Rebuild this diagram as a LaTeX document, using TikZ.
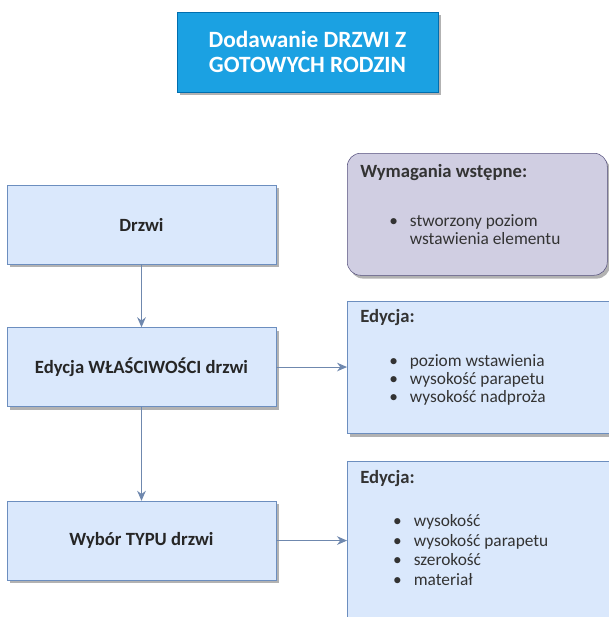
\documentclass[tikz,border=0pt]{standalone}
\usepackage{fontspec}
\setmainfont{Carlito}
\usetikzlibrary{arrows.meta, positioning, shadows}
\definecolor{tytulniebieski}{HTML}{1BA1E2}
\definecolor{tytulramka}{HTML}{006EAF}
\definecolor{blokfill}{HTML}{DAE8FC}
\definecolor{blokramka}{HTML}{6C8EBF}
\definecolor{fioletfill}{HTML}{D0CEE2}
\definecolor{fioletramka}{HTML}{56517E}
\definecolor{strzalka}{HTML}{6F88AE}

\begin{document}
\begin{tikzpicture}[
        x=0.75pt, y=-0.75pt,
        cien/.style={
            drop shadow={shadow xshift=2pt, shadow yshift=-2.5pt, fill=black, opacity=0.3}
        },
        tytul/.style={
            rectangle,
            draw=tytulramka,
            fill=tytulniebieski,
            minimum width=195.75pt,
            minimum height=60pt,
            align=center,
            text=white,
            font=\fontsize{17.5}{19}\selectfont\bfseries,
            cien
        },
        krok/.style={
            rectangle,
            draw=blokramka,
            fill=blokfill,
            minimum width=201.75pt,
            minimum height=59.25pt,
            text=black!85,
            font=\fontsize{14}{16}\selectfont\bfseries,
            cien
        },
        opis/.style={
            rectangle,
            anchor=north west,
            draw=blokramka,
            fill=blokfill,
            minimum width=225pt,
            cien
        },
        wymog/.style={opis, rounded corners=10pt, draw=fioletramka, fill=fioletfill, minimum width=195pt},
        tresc/.style={
            anchor=north west,
            align=left,
            inner sep=0pt,
            text=black!80,
            font=\fontsize{13}{13.5}\selectfont
        },
        strzala/.style={-{Stealth[length=7.5pt, width=6.5pt]}, line width=0.75pt, draw=strzalka}
    ]
        \useasboundingbox (0,0) rectangle (609,617);
        \clip (0,0) rectangle (609,617);

        \node[tytul] (tytul) at (307.5,52) {Dodawanie DRZWI Z\\GOTOWYCH RODZIN};

        % lewa kolumna: kolejne kroki
        \node[krok] (drzwi) at (141.5,224.5) {Drzwi};
        \node[krok, below=47.25pt of drzwi] (wlasciwosci) {Edycja WŁAŚCIWOŚCI drzwi};
        \node[krok, below=70.5pt of wlasciwosci] (typ) {Wybór TYPU drzwi};

        % prawa kolumna: opisy
        \node[wymog, minimum height=91.5pt] (wymagania) at (347,153) {};
        \node[opis, minimum height=99pt] (edycjaA) at (347,301) {};
        \node[opis, minimum height=150pt] (edycjaB) at (347,461) {};

        \node[tresc] at ([shift={(13,11)}]wymagania.north west) {
            {\fontsize{14}{14}\selectfont\bfseries Wymagania wstępne:}\\[24pt]
            \begin{tabular}{@{\hspace{21.75pt}}l@{\hspace{9pt}}l}
                \textbullet & stworzony poziom\\
                            & wstawienia elementu
            \end{tabular}
        };
        \node[tresc] at ([shift={(13,8)}]edycjaA.north west) {
            {\fontsize{14}{14}\selectfont\bfseries Edycja:}\\[20pt]
            \begin{tabular}{@{\hspace{21.75pt}}l@{\hspace{9pt}}l}
                \textbullet & poziom wstawienia\\
                \textbullet & wysokość parapetu\\
                \textbullet & wysokość nadproża
            \end{tabular}
        };
        \node[tresc] at ([shift={(13,9)}]edycjaB.north west) {
            {\fontsize{14}{14}\selectfont\bfseries Edycja:}\\[19pt]
            \renewcommand{\arraystretch}{1.08}
            \begin{tabular}{@{\hspace{21.75pt}}l@{\hspace{9pt}}l}
                \textbullet & wysokość\\
                \textbullet & wysokość parapetu\\
                \textbullet & szerokość\\
                \textbullet & materiał
            \end{tabular}
        };

        \draw[strzala] (drzwi) -- (wlasciwosci);
        \draw[strzala] (wlasciwosci) -- (typ);
        \draw[strzala] (wlasciwosci.east) -- (wlasciwosci.east -| edycjaA.west);
        \draw[strzala] (typ.east) -- (typ.east -| edycjaB.west);
    \end{tikzpicture}
\end{document}
